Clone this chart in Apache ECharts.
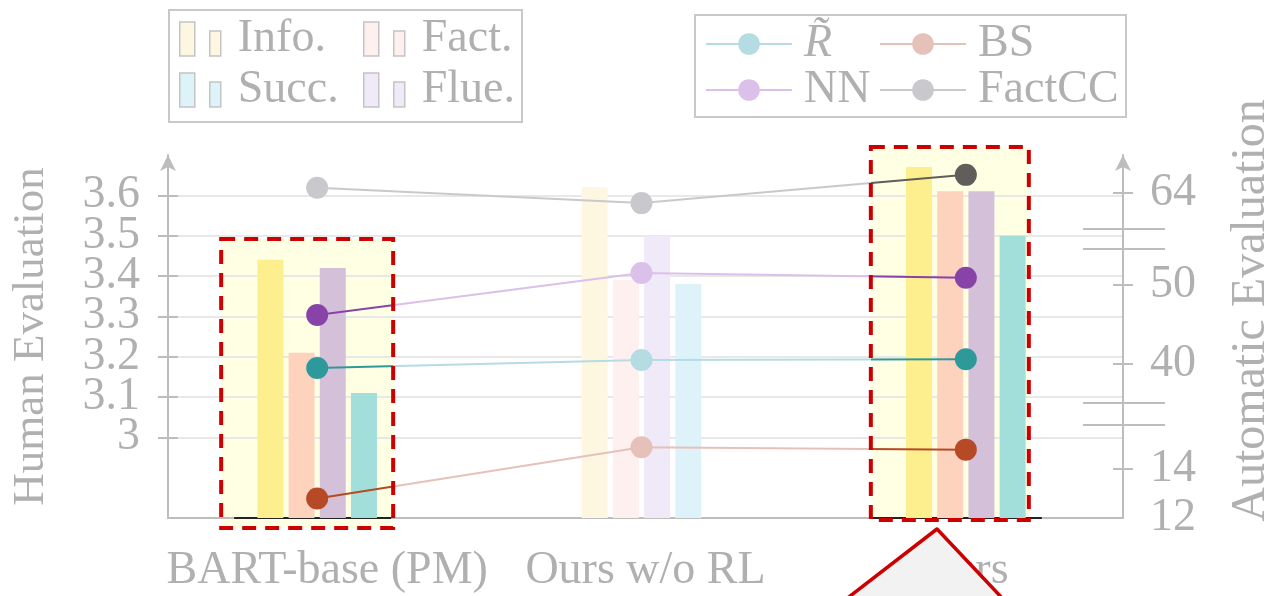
<!DOCTYPE html>
<html>
<head>
<meta charset="utf-8">
<script src="https://cdn.jsdelivr.net/npm/echarts@6/dist/echarts.min.js"></script>
<style>
  html, body { margin: 0; padding: 0; background: #fff; }
  #chart { width: 1272px; height: 596px; }
</style>
</head>
<body>
<div id="chart"></div>
<script>
var categories = ['BART-base (PM)', 'Ours w/o RL', 'Ours'];

// human evaluation (left axis)
var info = [3.44, 3.62, 3.67];
var fact = [3.21, 3.39, 3.61];
var flue = [3.42, 3.50, 3.61];
var succ = [3.11, 3.38, 3.50];

// automatic evaluation (right axis, broken in three parts)
var rTilde = [39.5, 40.5, 40.6];
var nn = [46.2, 51.5, 50.9];
var bs = [12.8, 14.9, 14.8];
var factcc = [64.7, 62.7, 66.4];

var humanTicks = [3, 3.1, 3.2, 3.3, 3.4, 3.5, 3.6];
var humanLabelsEven = [3, 3.2, 3.4, 3.6];
var humanLabelsOdd = [3.1, 3.3, 3.5];
var autoTopLabels = [64];
var autoMidLabels = [40, 50];
var autoLowTicks = [14];
var autoLowLabels = [12, 14];

var SERIF = "'Liberation Serif', 'DejaVu Serif', serif";
var TEXT = '#b0b0b0';
var AXIS = '#bdbdbd';
var RED = '#cc0000';

// which groups are framed by the red boxes
var framed = [true, false, true];

var chart = echarts.init(document.getElementById('chart'));

function barSeries(name, values, strong, faint) {
  return {
    name: name,
    type: 'bar',
    xAxisIndex: 1,
    yAxisIndex: 3,
    barWidth: 26,
    barGap: '20%',
    z: 3,
    itemStyle: { color: faint },
    data: values.map(function (v, i) {
      return { value: v, itemStyle: { color: framed[i] ? strong : faint } };
    })
  };
}

function lineSeries(name, values, axisIdx, dark, light, darkPts, geo) {
  var lineColor = light;
  if (geo) {
    var a = geo.box0Right / 1272, b = geo.box2Left / 1272;
    var stops = [];
    if (darkPts[0]) {
      stops.push({ offset: 0, color: dark }, { offset: a, color: dark }, { offset: a, color: light });
    } else {
      stops.push({ offset: 0, color: light });
    }
    stops.push({ offset: b, color: light }, { offset: b, color: dark }, { offset: 1, color: dark });
    lineColor = { type: 'linear', x: 0, y: 0, x2: 1272, y2: 0, global: true, colorStops: stops };
  }
  return {
    name: name,
    type: 'line',
    xAxisIndex: axisIdx - 2,
    yAxisIndex: axisIdx,
    symbol: 'circle',
    symbolSize: 22,
    clip: false,
    z: 5,
    lineStyle: { width: 2, color: lineColor },
    itemStyle: { color: light },
    data: values.map(function (v, i) {
      return { value: v, itemStyle: { color: darkPts[i] ? dark : light } };
    })
  };
}

function segAxis(grid, min, max, ticks, labels) {
  return {
    gridIndex: grid, type: 'value', min: min, max: max, position: 'right', offset: -15,
    axisLine: { show: true, lineStyle: { color: 'rgba(0,0,0,0)' } },
    axisTick: { show: true, length: 20, customValues: ticks, lineStyle: { color: AXIS, width: 2 } },
    axisLabel: {
      customValues: labels, hideOverlap: false, showMinLabel: true, showMaxLabel: true,
      fontFamily: SERIF, fontSize: 46, color: TEXT, margin: 37
    },
    splitLine: { show: false }
  };
}

function humanLabelAxis(labels, withTicks) {
  return {
    gridIndex: 0, type: 'value', min: 2.8, max: 3.7, position: 'left', offset: -10,
    axisLine: { show: true, lineStyle: { color: 'rgba(0,0,0,0)' } },
    axisTick: { show: withTicks, length: 20, customValues: humanTicks, lineStyle: { color: AXIS, width: 2 } },
    axisLabel: {
      customValues: labels, hideOverlap: false, showMinLabel: true, showMaxLabel: true,
      fontFamily: SERIF, fontSize: 46, color: TEXT, margin: 38,
      formatter: function (v) { return String(+(+v).toFixed(1)); }
    },
    splitLine: { show: withTicks, lineStyle: { color: '#e8e8e8', width: 2 } }
  };
}

function hiddenX(grid) {
  return { gridIndex: grid, type: 'category', data: categories, show: false };
}

function makeGrid(g) {
  g.outerBoundsMode = 'none';
  g.containLabel = false;
  return g;
}

var legendText = { fontFamily: SERIF, fontSize: 46, lineHeight: 46, color: TEXT };

function barLegend(names, left) {
  return {
    data: names, orient: 'vertical', left: left, top: 16, padding: 0,
    itemWidth: 41, itemHeight: 34, itemGap: 5,
    icon: 'path://M0,0H15V34H0Z M30,9H41V34H30Z',
    itemStyle: { borderColor: '#c4c4c4', borderWidth: 1.5 },
    textStyle: Object.assign({ padding: [0, 0, 0, 12] }, legendText)
  };
}

function lineLegend(items, left) {
  return {
    data: items, orient: 'vertical', left: left, top: 21, padding: 0,
    itemWidth: 86, itemHeight: 27, itemGap: 0,
    formatter: function (n) { return n === 'R\u0303' ? '{i|' + n + '}' : n; },
    textStyle: Object.assign({
      padding: [0, 0, 0, 7],
      rich: { i: Object.assign({ fontStyle: 'italic' }, legendText) }
    }, legendText)
  };
}

function legendItem(name, color) {
  return { name: name, itemStyle: { color: color }, lineStyle: { color: color } };
}

function build(geo) {
  var graphics = [
    { type: 'rect', z: 8, silent: true, shape: { x: 169, y: 10, width: 353, height: 112 },
      style: { fill: null, stroke: '#c9c9c9', lineWidth: 2 } },
    { type: 'rect', z: 8, silent: true, shape: { x: 695, y: 15, width: 431, height: 102 },
      style: { fill: null, stroke: '#c9c9c9', lineWidth: 2 } }
  ];
  if (geo) {
    var boxes = [
      { x: geo.box0Left, y: 239, w: geo.box0Right - geo.box0Left, h: 289 },
      { x: geo.box2Left, y: 147, w: geo.box2Right - geo.box2Left, h: 373 }
    ];
    boxes.forEach(function (b) {
      graphics.push({ type: 'rect', z: -1, silent: true,
        shape: { x: b.x, y: b.y, width: b.w, height: b.h },
        style: { fill: '#ffffe4' } });
    });
    graphics.push({ type: 'line', z: 1, silent: true,
      shape: { x1: geo.c0 - 83, y1: 518, x2: geo.c0 + 74, y2: 518 },
      style: { stroke: '#222', lineWidth: 2 } });
    graphics.push({ type: 'line', z: 1, silent: true,
      shape: { x1: geo.c2 - 95, y1: 518, x2: geo.c2 + 76, y2: 518 },
      style: { stroke: '#222', lineWidth: 2 } });
    boxes.forEach(function (b) {
      graphics.push({ type: 'rect', z: 8, silent: true,
        shape: { x: b.x, y: b.y, width: b.w, height: b.h },
        style: { fill: null, stroke: RED, lineWidth: 4, lineDash: [14, 9] } });
    });
    // axis break marks
    [229, 249, 403, 425].forEach(function (y) {
      graphics.push({ type: 'line', z: 8, silent: true,
        shape: { x1: 1083, y1: y, x2: 1165, y2: y },
        style: { stroke: AXIS, lineWidth: 2 } });
    });
    // callout
    graphics.push({ type: 'polygon', z: 10, silent: true,
      shape: { points: [[937, 529], [845, 600], [1004, 600]] },
      style: { fill: '#f2f2f2', stroke: RED, lineWidth: 3.5, lineJoin: 'round' } });
  }

  return {
    animation: false,
    backgroundColor: '#fff',
    graphic: { elements: graphics },
    legend: [
      barLegend(['Info.', 'Succ.'], 179),
      barLegend(['Fact.', 'Flue.'], 363),
      lineLegend([legendItem('R\u0303', '#b5dbe3'), legendItem('NN', '#dbc0ea')], 705),
      lineLegend([legendItem('BS', '#e6c1b9'), legendItem('FactCC', '#c9c8cd')], 879)
    ],
    grid: [
      makeGrid({ left: 168, right: 149, top: 155, bottom: 78 }),
      makeGrid({ left: 155, right: 144, top: 155, bottom: 78 }),
      makeGrid({ left: 155, right: 144, top: 155, height: 84 }),
      makeGrid({ left: 155, right: 144, top: 239, height: 174 }),
      makeGrid({ left: 155, right: 144, top: 413, bottom: 78 })
    ],
    xAxis: [
      {
        gridIndex: 0, type: 'category', data: categories,
        axisLine: { lineStyle: { color: AXIS, width: 2 } },
        axisTick: { alignWithLabel: true, length: 20, lineStyle: { color: AXIS, width: 2 } },
        axisLabel: { interval: 0, hideOverlap: false, fontFamily: SERIF, fontSize: 46, color: TEXT, margin: 30 }
      },
      hiddenX(1), hiddenX(2), hiddenX(3), hiddenX(4)
    ],
    yAxis: [
      {
        gridIndex: 0, type: 'value', min: 2.8, max: 3.7, position: 'left',
        name: 'Human Evaluation', nameLocation: 'middle', nameRotate: 90, nameGap: 114,
        nameTextStyle: { fontFamily: SERIF, fontSize: 45, color: TEXT },
        axisLine: { show: true, symbol: ['none', 'arrow'], symbolSize: [12, 16], lineStyle: { color: AXIS, width: 2 } },
        axisTick: { show: false }, axisLabel: { show: false }, splitLine: { show: false }
      },
      humanLabelAxis(humanLabelsEven, true),
      {
        gridIndex: 0, type: 'value', min: 0, max: 1, position: 'right',
        name: 'Automatic Evaluation', nameLocation: 'middle', nameRotate: 90, nameGap: 104,
        nameTextStyle: { fontFamily: SERIF, fontSize: 48, color: TEXT, padding: [0, 0, 0, 52] },
        axisLine: { show: true, symbol: ['none', 'arrow'], symbolSize: [12, 16], lineStyle: { color: AXIS, width: 2 } },
        axisTick: { show: false }, axisLabel: { show: false }, splitLine: { show: false }
      },
      { gridIndex: 1, type: 'value', min: 2.8, max: 3.7, show: false },
      segAxis(2, 58, 69, autoTopLabels, autoTopLabels),
      segAxis(3, 33.8, 55.8, autoMidLabels, autoMidLabels),
      segAxis(4, 12, 16.3, autoLowTicks, autoLowLabels),
      humanLabelAxis(humanLabelsOdd, false)
    ],
    series: [
      barSeries('Info.', info, '#fdef8e', '#fdf7e2'),
      barSeries('Fact.', fact, '#fdd3be', '#fdf0ef'),
      barSeries('Flue.', flue, '#d4c0d8', '#efe9f8'),
      barSeries('Succ.', succ, '#a2dfdb', '#ddf2f9'),
      lineSeries('R\u0303', rTilde, 5, '#2e999b', '#b5dbe3', [1, 0, 1], geo),
      lineSeries('BS', bs, 6, '#b64a27', '#e6c1b9', [1, 0, 1], geo),
      lineSeries('NN', nn, 5, '#8843a9', '#dbc0ea', [1, 0, 1], geo),
      lineSeries('FactCC', factcc, 4, '#5f5e5a', '#c9c8cd', [0, 0, 1], geo)
    ]
  };
}

chart.setOption(build(null));

// place the highlight frames around the first and last bar groups
var c0 = chart.convertToPixel({ xAxisIndex: 1 }, categories[0]);
var c2 = chart.convertToPixel({ xAxisIndex: 1 }, categories[2]);
var geo = {
  c0: c0, c2: c2,
  box0Left: c0 - 96, box0Right: c0 + 76,
  box2Left: c2 - 95, box2Right: c2 + 63
};
chart.setOption(build(geo));
</script>
</body>
</html>
